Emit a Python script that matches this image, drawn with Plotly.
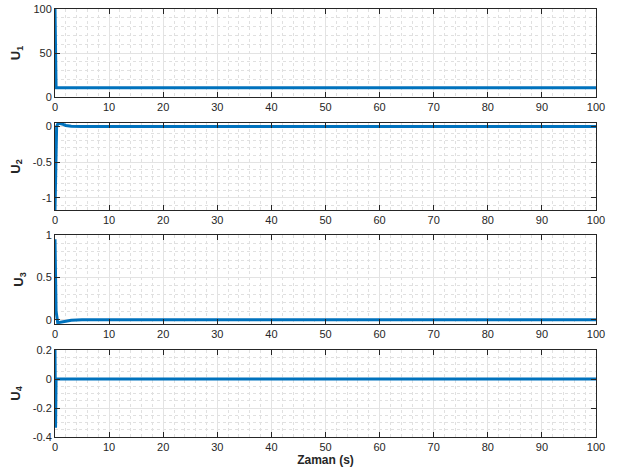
import plotly.graph_objects as go
from plotly.subplots import make_subplots

# ---- data ----
t1 = [0, 0.2, 100]
u1 = [100, 10.5, 10.5]

t2 = [0, 0.3, 0.6, 1.0, 1.5, 2.0, 3.0, 5.0, 100]
u2 = [-1.17, 0.0, 0.05, 0.045, 0.03, 0.015, 0.005, 0.0, 0.0]

t3 = [0, 0.2, 0.5, 1.0, 2.0, 3.0, 5.0, 100]
u3 = [0.95, 0.1, -0.035, -0.03, -0.015, -0.007, 0.0, 0.0]

t4 = [0, 0.1, 0.2, 100]
u4 = [0.2, -0.336, 0.0, 0.0]

x_ticks = [0, 10, 20, 30, 40, 50, 60, 70, 80, 90, 100]
y1_ticks = [0, 50, 100]
y2_ticks = [-1, -0.5, 0]
y3_ticks = [0, 0.5, 1]
y4_ticks = [-0.4, -0.2, 0, 0.2]
y_labels = ["U<sub>1</sub>", "U<sub>2</sub>", "U<sub>3</sub>", "U<sub>4</sub>"]

series = [(t1, u1), (t2, u2), (t3, u3), (t4, u4)]
y_ranges = [[0, 100], [-1.17, 0.05], [-0.05, 1.0], [-0.4, 0.2]]
y_tickss = [y1_ticks, y2_ticks, y3_ticks, y4_ticks]
y_minor = [10, 0.1, 0.1, 0.05]

W, H = 618, 471
ML, MR, MT, MB = 55, 22, 9, 34
ph = H - MT - MB
boxes = [(9, 97), (123, 210), (235, 324), (350, 437)]

fig = make_subplots(rows=4, cols=1)

AX = "#262626"
GRID = "#e3e3e3"
MINOR = "#e0e0e0"
FONT = dict(family="Liberation Sans, Arial, sans-serif", size=11, color=AX)

def fmt(v):
    return "%g" % v

for i, (tt, uu) in enumerate(series):
    r = i + 1
    fig.add_trace(go.Scatter(x=tt, y=uu, mode="lines",
                             line=dict(color="#0072BD", width=3),
                             showlegend=False), row=r, col=1)
    top, bot = boxes[i]
    dom = [(H - MB - bot) / ph, (H - MB - top) / ph]
    fig.update_yaxes(row=r, col=1, domain=dom, range=y_ranges[i], automargin=False,
                     tickvals=y_tickss[i], ticktext=[fmt(v) for v in y_tickss[i]],
                     ticks="inside", ticklen=5, tickcolor=AX,
                     showline=True, linecolor=AX, linewidth=1, mirror="allticks",
                     showgrid=True, gridcolor=GRID, gridwidth=1,
                     minor=dict(dtick=y_minor[i], showgrid=True, gridcolor=MINOR,
                                griddash="dot", gridwidth=1, ticks=""),
                     zeroline=False, tickfont=FONT,
                     title=dict(text="<b>" + y_labels[i] + "</b>",
                                font=dict(family="Liberation Sans, Arial, sans-serif",
                                          size=13, color=AX),
                                standoff=9))
    fig.update_xaxes(row=r, col=1, range=[0, 100], automargin=False,
                     tickvals=x_ticks, ticktext=[str(v) for v in x_ticks],
                     ticks="inside", ticklen=5, tickcolor=AX,
                     showline=True, linecolor=AX, linewidth=1, mirror="allticks",
                     showgrid=True, gridcolor=GRID, gridwidth=1,
                     minor=dict(dtick=2, showgrid=True, gridcolor=MINOR,
                                griddash="dot", gridwidth=1, ticks=""),
                     zeroline=False, tickfont=FONT)

fig.update_xaxes(row=4, col=1,
                 title=dict(text="<b>Zaman (s)</b>",
                            font=dict(family="Liberation Sans, Arial, sans-serif",
                                      size=12, color=AX),
                            standoff=2))

fig.update_layout(width=W, height=H, margin=dict(l=ML, r=MR, t=MT, b=MB),
                  paper_bgcolor="white", plot_bgcolor="white",
                  font=FONT, showlegend=False)

fig.write_html("out.html", config={"displayModeBar": False},
               post_script="document.body.style.margin='0';document.body.style.overflow='hidden';")
